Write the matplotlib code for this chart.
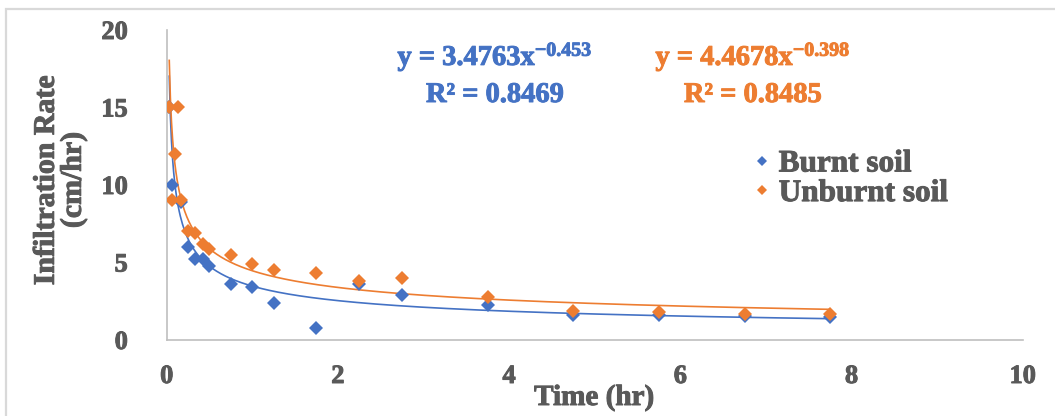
import numpy as np
import matplotlib.pyplot as plt
import matplotlib.patheffects as pe
from matplotlib.patches import Rectangle

# Infiltration data (time in hr, rate in cm/hr)
t_burnt = [0.03, 0.06, 0.17, 0.25, 0.33, 0.42, 0.50, 0.75, 1.00, 1.25,
           1.75, 2.25, 2.75, 3.75, 4.75, 5.75, 6.75, 7.75]
i_burnt = [15.0, 10.0, 8.9, 6.0, 5.2, 5.2, 4.8, 3.6, 3.4, 2.4,
           0.8, 3.6, 2.9, 2.25, 1.6, 1.6, 1.55, 1.48]

t_unburnt = [0.03, 0.13, 0.10, 0.06, 0.17, 0.25, 0.33, 0.42, 0.50, 0.75,
             1.00, 1.25, 1.75, 2.25, 2.75, 3.75, 4.75, 5.75, 6.75, 7.75]
i_unburnt = [15.0, 15.0, 12.0, 9.0, 9.0, 7.0, 6.9, 6.2, 5.9, 5.5,
             4.9, 4.5, 4.3, 3.8, 4.0, 2.8, 1.9, 1.8, 1.7, 1.7]

# Power trendlines as shown on the chart: y = a * x^b
fit_burnt = (3.4763, -0.453, 0.8469)
fit_unburnt = (4.4678, -0.398, 0.8485)

x_ticks = [0, 2, 4, 6, 8, 10]
y_ticks = [0, 5, 10, 15, 20]

BLUE = "#4472C4"
ORANGE = "#ED7D31"
GRAY = "#595959"
SERIF = ["Liberation Serif", "DejaVu Serif"]

plt.rcParams["font.family"] = SERIF
plt.rcParams["font.weight"] = "bold"
plt.rcParams["mathtext.fontset"] = "custom"
plt.rcParams["mathtext.rm"] = "Liberation Serif:bold"
plt.rcParams["mathtext.it"] = "Liberation Serif:bold"
plt.rcParams["mathtext.bf"] = "Liberation Serif:bold"
plt.rcParams["mathtext.default"] = "bf"


def heavy(color):
    # thin stroke so the bold serif reads as heavy as the original
    return [pe.withStroke(linewidth=0.7, foreground=color)]


fig = plt.figure(figsize=(10.55, 4.16), dpi=100)
ax = fig.add_axes([0.158, 0.1827, 0.8114, 0.7452])

# outer chart frame (only top/left edges visible in the crop)
fig.patches.append(Rectangle((5.5 / 1055, -0.1), 1.2, (1 - 9 / 416) + 0.1,
                             transform=fig.transFigure, fill=False,
                             edgecolor="#D9D9D9", linewidth=1.6, zorder=0))


def draw_series(t, v, fit, color, label):
    a, b, _ = fit
    xs = np.linspace(min(t), max(t), 600)
    ax.plot(xs, a * xs ** b, color=color, linewidth=1.2, zorder=2)
    ax.plot(t, v, linestyle="none", marker="D", markersize=7,
            color=color, markeredgewidth=0, label=label, zorder=3)


draw_series(t_burnt, i_burnt, fit_burnt, BLUE, "Burnt soil")
draw_series(t_unburnt, i_unburnt, fit_unburnt, ORANGE, "Unburnt soil")

ax.set_xlim(0, 10)
ax.set_ylim(0, 20)
ax.set_xticks(x_ticks)
ax.set_yticks(y_ticks)
ax.tick_params(length=0, labelsize=19, labelcolor=GRAY)
ax.tick_params(axis="x", pad=18)
ax.tick_params(axis="y", pad=28)
for lbl in ax.get_xticklabels() + ax.get_yticklabels():
    lbl.set_fontweight("bold")
    lbl.set_path_effects(heavy(GRAY))
for side in ("top", "right"):
    ax.spines[side].set_visible(False)
for side in ("left", "bottom"):
    ax.spines[side].set_color("#BFBFBF")
    ax.spines[side].set_linewidth(1.2)

fig.text(594 / 1055, 1 - 405 / 416, "Time (hr)", ha="center",
         va="baseline", fontsize=21, color=GRAY, fontweight="bold",
         path_effects=heavy(GRAY))
fig.text(60 / 1055, 1 - 180 / 416, "Infiltration Rate\n(cm/hr)",
         ha="center", va="center", rotation=90, fontsize=21.5,
         color=GRAY, fontweight="bold", linespacing=1.0,
         path_effects=heavy(GRAY))

# trendline equations
for fit, color, xc in ((fit_burnt, BLUE, 495), (fit_unburnt, ORANGE, 753)):
    a, b, r2 = fit
    fig.text(xc / 1055, 1 - 65 / 416,
             f"y = {a:.4f}x$^{{\\mathbf{{{b:.3f}}}}}$",
             ha="center", va="baseline", fontsize=20.5, color=color,
             fontweight="bold", path_effects=heavy(color))
    fig.text(xc / 1055, 1 - 102 / 416, f"R² = {r2:.4f}", ha="center",
             va="baseline", fontsize=20.5, color=color, fontweight="bold",
             path_effects=heavy(color))

leg = ax.legend(loc="upper left", bbox_to_anchor=(0.662, 0.655),
                frameon=False, prop={"size": 22.5, "weight": "bold"},
                handletextpad=0.05, handlelength=1.0, labelspacing=0.02,
                markerscale=0.8, borderaxespad=0)
for txt in leg.get_texts():
    txt.set_color(GRAY)
    txt.set_path_effects(heavy(GRAY))

fig.savefig("out.png", dpi=100)
